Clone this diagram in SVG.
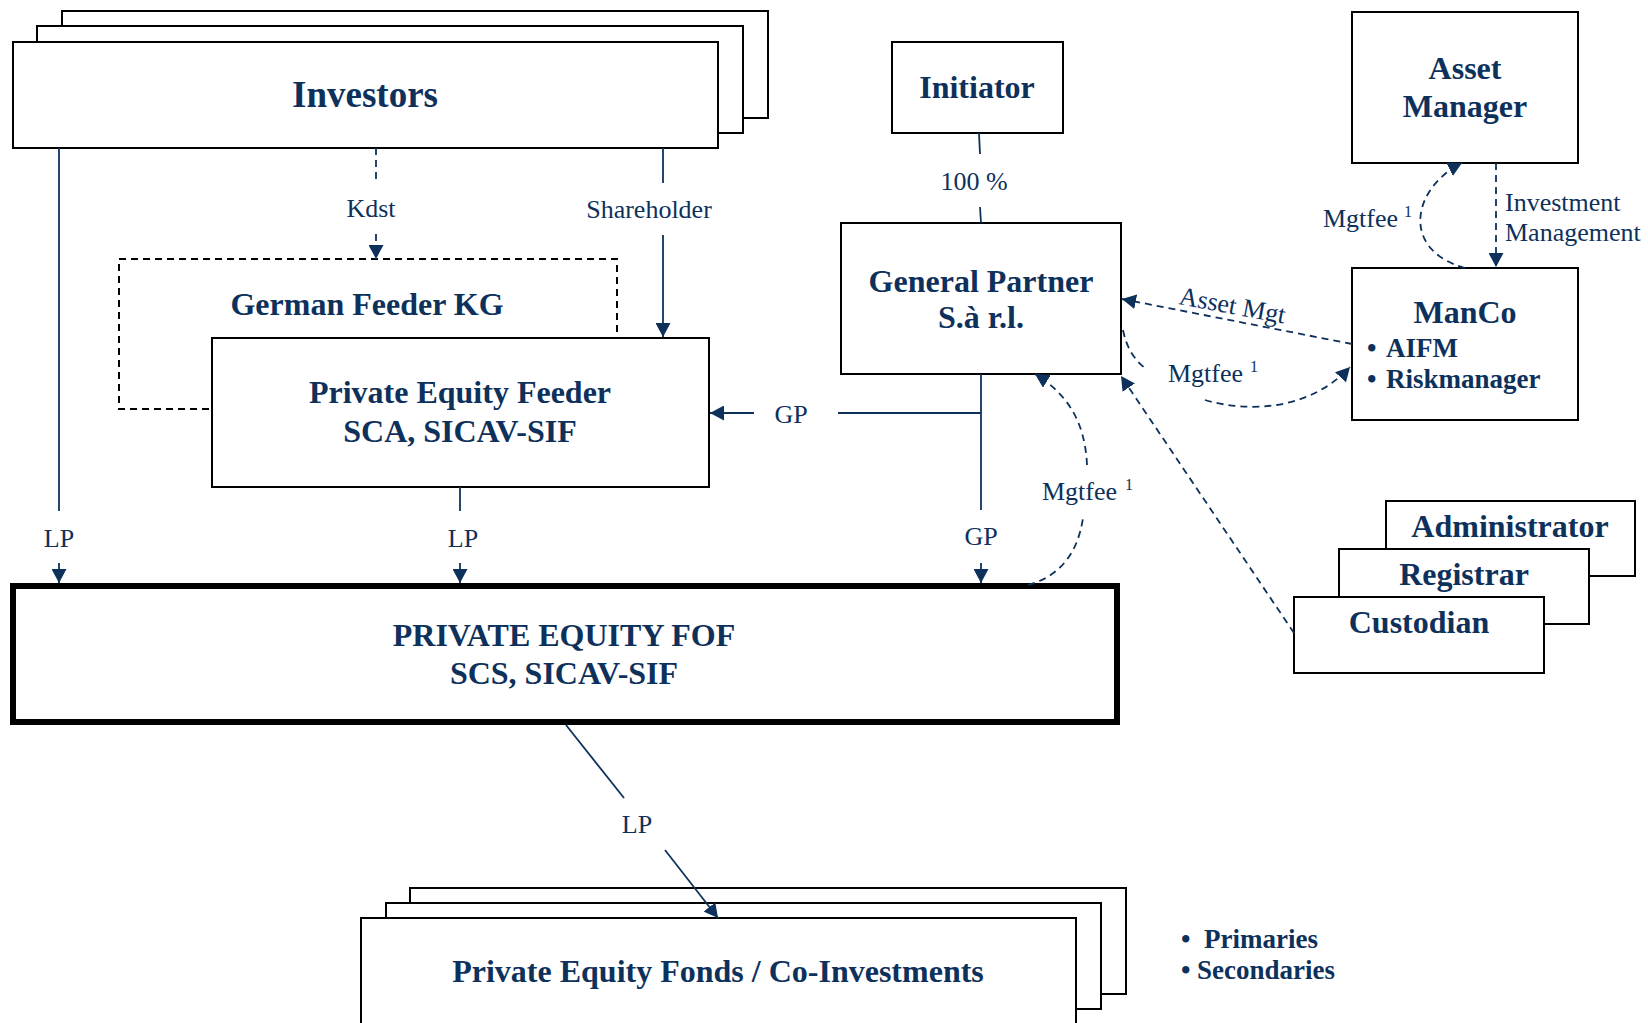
<svg xmlns="http://www.w3.org/2000/svg" width="1648" height="1023" viewBox="0 0 1648 1023">
<style>
.box{fill:#fff;stroke:#000;stroke-width:2}
.nt{font-family:"Liberation Serif","Times New Roman",serif;font-weight:bold;font-size:32px;fill:#0e315c;text-anchor:middle}
.lb{font-family:"Liberation Serif","Times New Roman",serif;font-size:26px;fill:#0e315c}
.sup{font-size:16px}
.ln{fill:none;stroke:#0e315c;stroke-width:1.8}
.dl{fill:none;stroke:#0e315c;stroke-width:1.8;stroke-dasharray:7 5}
.bl{font-family:"Liberation Serif","Times New Roman",serif;font-weight:bold;font-size:27px;fill:#0e315c}
</style>
<defs>
<marker id="ah" markerUnits="userSpaceOnUse" markerWidth="14" markerHeight="15" viewBox="0 0 14 15" refX="14" refY="7.5" orient="auto">
<path d="M0,0 L14,7.5 L0,15 z" fill="#0e315c"/>
</marker>
</defs>
<rect width="1648" height="1023" fill="#fff"/>

<g id="investors">
<rect class="box" x="62" y="11" width="706" height="107"/>
<rect class="box" x="37" y="26" width="706" height="107"/>
<rect class="box" x="13" y="42" width="705" height="106"/>
<text class="nt" x="365" y="107" style="font-size:37px">Investors</text>
</g>

<g id="german-feeder">
<path d="M209,409 H119 V259 H617 V338" fill="none" stroke="#000" stroke-width="2" stroke-dasharray="7 5"/>
<text class="nt" x="367" y="315">German Feeder KG</text>
</g>

<g id="pe-feeder">
<rect class="box" x="212" y="338" width="497" height="149"/>
<text class="nt" x="460" y="403">Private Equity Feeder</text>
<text class="nt" x="460" y="442">SCA, SICAV-SIF</text>
</g>

<g id="initiator">
<rect class="box" x="892" y="42" width="171" height="91"/>
<text class="nt" x="977" y="98">Initiator</text>
</g>

<g id="general-partner">
<rect class="box" x="841" y="223" width="280" height="151"/>
<text class="nt" x="981" y="292">General Partner</text>
<text class="nt" x="981" y="328">S.à r.l.</text>
</g>

<g id="asset-manager">
<rect class="box" x="1352" y="12" width="226" height="151"/>
<text class="nt" x="1465" y="79">Asset</text>
<text class="nt" x="1465" y="117">Manager</text>
</g>

<g id="manco">
<rect class="box" x="1352" y="268" width="226" height="152"/>
<text class="nt" x="1465" y="323">ManCo</text>
<text class="bl" y="357"><tspan x="1367">•</tspan><tspan x="1386">AIFM</tspan></text>
<text class="bl" y="388"><tspan x="1367">•</tspan><tspan x="1386">Riskmanager</tspan></text>
</g>

<g id="service-providers">
<rect class="box" x="1386" y="501" width="249" height="75"/>
<text class="nt" x="1510" y="537">Administrator</text>
<rect class="box" x="1339" y="549" width="250" height="75"/>
<text class="nt" x="1464" y="585">Registrar</text>
<rect class="box" x="1294" y="597" width="250" height="76"/>
<text class="nt" x="1419" y="633">Custodian</text>
</g>

<g id="pe-fof">
<rect x="13" y="586" width="1104" height="136" fill="#fff" stroke="#000" stroke-width="6"/>
<text class="nt" x="564" y="646">PRIVATE EQUITY FOF</text>
<text class="nt" x="564" y="684">SCS, SICAV-SIF</text>
</g>

<g id="pe-fonds">
<rect class="box" x="410" y="888" width="716" height="106"/>
<rect class="box" x="386" y="903" width="715" height="106"/>
<rect class="box" x="361" y="918" width="715" height="120"/>
<text class="nt" x="718" y="982">Private Equity Fonds / Co-Investments</text>
</g>

<g id="strategies">
<text class="bl" y="948"><tspan x="1181">•</tspan><tspan x="1204">Primaries</tspan></text>
<text class="bl" y="979"><tspan x="1181">•</tspan><tspan x="1197">Secondaries</tspan></text>
</g>

<g id="connectors">
<!-- Investors LP -->
<line class="ln" x1="59" y1="148" x2="59" y2="511"/>
<line class="ln" x1="59" y1="563" x2="59" y2="583" marker-end="url(#ah)"/>
<text class="lb" x="59" y="547" text-anchor="middle">LP</text>
<!-- Kdst -->
<line class="dl" x1="376" y1="148" x2="376" y2="182"/>
<line class="dl" x1="376" y1="234" x2="376" y2="259" marker-end="url(#ah)"/>
<text class="lb" x="371" y="217" text-anchor="middle">Kdst</text>
<!-- Shareholder -->
<line class="ln" x1="663" y1="148" x2="663" y2="183"/>
<line class="ln" x1="663" y1="235" x2="663" y2="337" marker-end="url(#ah)"/>
<text class="lb" x="649" y="218" text-anchor="middle">Shareholder</text>
<!-- Feeder LP -->
<line class="ln" x1="460" y1="487" x2="460" y2="511"/>
<line class="ln" x1="460" y1="563" x2="460" y2="583" marker-end="url(#ah)"/>
<text class="lb" x="463" y="547" text-anchor="middle">LP</text>
<!-- GP to FOF -->
<line class="ln" x1="981" y1="374" x2="981" y2="510"/>
<line class="ln" x1="981" y1="563" x2="981" y2="583" marker-end="url(#ah)"/>
<text class="lb" x="981" y="545" text-anchor="middle">GP</text>
<!-- GP to Feeder -->
<line class="ln" x1="981" y1="413" x2="838" y2="413"/>
<line class="ln" x1="754" y1="413" x2="710" y2="413" marker-end="url(#ah)"/>
<text class="lb" x="791" y="423" text-anchor="middle">GP</text>
<!-- Initiator 100% -->
<line class="ln" x1="979" y1="133" x2="980" y2="154"/>
<line class="ln" x1="980" y1="207" x2="981" y2="223"/>
<text class="lb" x="974" y="190" text-anchor="middle">100 %</text>
<!-- FOF LP to fonds -->
<line class="ln" x1="566" y1="725" x2="624" y2="798"/>
<line class="ln" x1="665" y1="850" x2="718" y2="918" marker-end="url(#ah)"/>
<text class="lb" x="637" y="833" text-anchor="middle">LP</text>
<!-- Investment Management -->
<line class="dl" x1="1496" y1="163" x2="1496" y2="267" marker-end="url(#ah)"/>
<text class="lb" x="1505" y="211">Investment</text>
<text class="lb" x="1505" y="241">Management</text>
<!-- Mgtfee ManCo -> Asset Manager -->
<path class="dl" d="M1465,268 C1400,250 1412,188 1462,163" marker-end="url(#ah)"/>
<text class="lb" x="1398" y="227" text-anchor="end">Mgtfee</text>
<text class="lb sup" x="1408" y="217" text-anchor="middle">1</text>
<!-- Asset Mgt ManCo -> GP -->
<line class="dl" x1="1352" y1="344" x2="1122" y2="299" marker-end="url(#ah)"/>
<text class="lb" transform="translate(1178,304) rotate(10.5)">Asset Mgt</text>
<!-- Mgtfee GP -> ManCo -->
<path class="dl" d="M1123,330 Q1128,355 1145,368"/>
<path class="dl" d="M1205,400 C1250,413 1310,410 1350,367" marker-end="url(#ah)"/>
<text class="lb" x="1168" y="382">Mgtfee</text>
<text class="lb sup" x="1254" y="372" text-anchor="middle">1</text>
<!-- Mgtfee FOF -> GP -->
<path class="dl" d="M1028,585 Q1075,572 1083,518"/>
<path class="dl" d="M1087,465 C1085,420 1066,393 1035,374" marker-end="url(#ah)"/>
<text class="lb" x="1042" y="500">Mgtfee</text>
<text class="lb sup" x="1129" y="490" text-anchor="middle">1</text>
<!-- Custodian -> GP -->
<line class="dl" x1="1294" y1="633" x2="1121" y2="376" marker-end="url(#ah)"/>
</g>
</svg>
